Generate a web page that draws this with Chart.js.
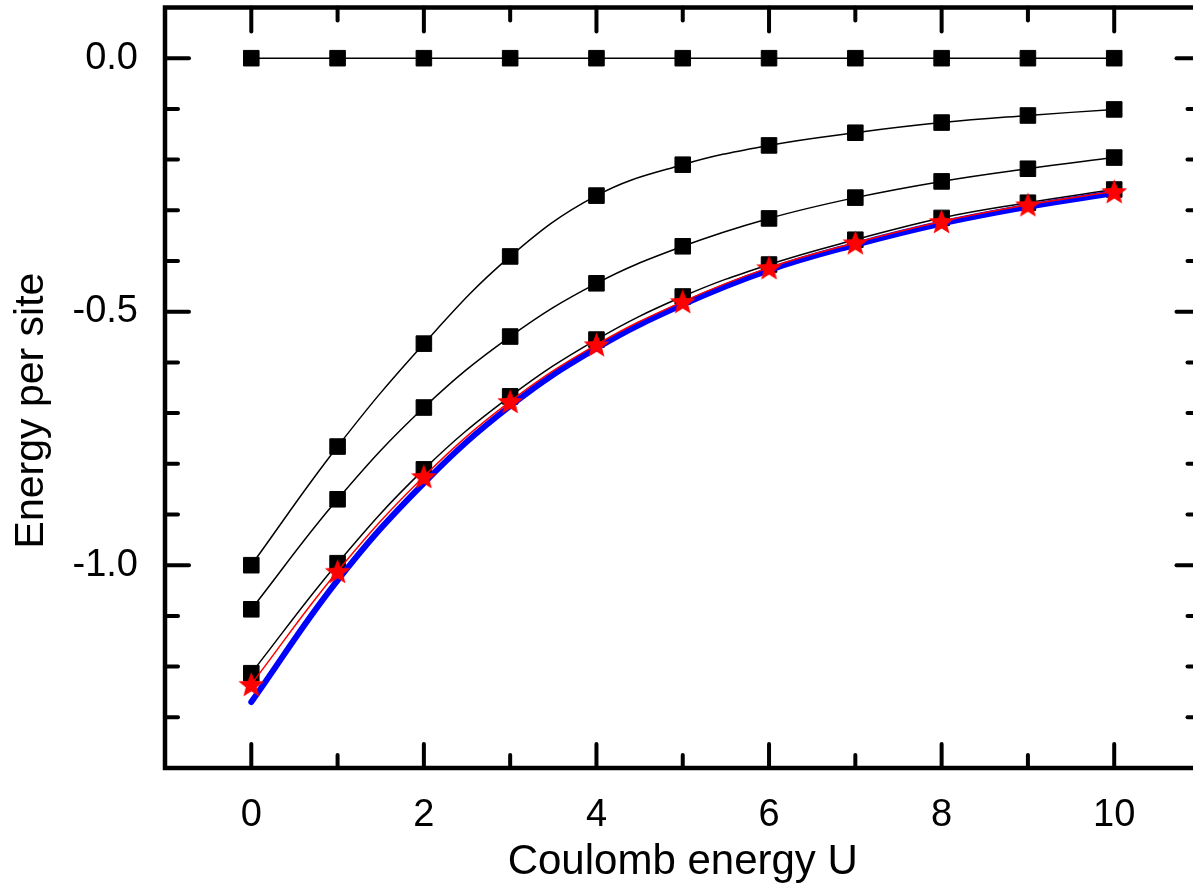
<!DOCTYPE html>
<html><head><meta charset="utf-8">
<script src="https://cdn.jsdelivr.net/npm/chart.js@4.4.0/dist/chart.umd.min.js"></script>
<style>
html,body{margin:0;padding:0;background:#fff;overflow:hidden;width:1193px;height:892px}
#wrap{position:absolute;left:0;top:-7px;width:1215px;height:899px}
</style></head><body><div id="wrap"><canvas id="c"></canvas></div>
<script>
// ---- data ----
const U = [0, 1, 2, 3, 4, 5, 6, 7, 8, 9, 10];
const seriesTop = [0, 0, 0, 0, 0, 0, 0, 0, 0, 0, 0];
const seriesB = [-1.000, -0.766, -0.563, -0.391, -0.271, -0.210, -0.172, -0.147, -0.127, -0.113, -0.101];
const seriesC = [-1.087, -0.870, -0.689, -0.549, -0.444, -0.371, -0.316, -0.275, -0.243, -0.218, -0.196];
const seriesD = [-1.213, -0.996, -0.811, -0.667, -0.555, -0.470, -0.407, -0.358, -0.315, -0.285, -0.259];
const seriesStar = [-1.235, -1.012, -0.825, -0.677, -0.565, -0.480, -0.413, -0.364, -0.322, -0.289, -0.263];
const seriesBlue = [-1.270, -1.030, -0.838, -0.686, -0.572, -0.486, -0.418, -0.368, -0.326, -0.293, -0.266];
const xTickValues = [0, 2, 4, 6, 8, 10];
const xMinorValues = [1, 3, 5, 7, 9];
const yTickValues = [0.0, -0.5, -1.0];
const yMinorValues = [-0.1, -0.2, -0.3, -0.4, -0.6, -0.7, -0.8, -0.9, -1.1, -1.2, -1.3];
const xTitle = 'Coulomb energy U';
const yTitle = 'Energy per site    ';

function pts(ys) { return U.map((u, i) => ({x: u, y: ys[i]})); }

function makeStar(R, r, color) {
  const s = Math.ceil(2 * R + 2);
  const c = document.createElement('canvas');
  c.width = s; c.height = s;
  const g = c.getContext('2d');
  g.beginPath();
  for (let i = 0; i < 10; i++) {
    const rad = i % 2 ? r : R;
    const a = -Math.PI / 2 + i * Math.PI / 5;
    g.lineTo(s / 2 + rad * Math.cos(a), s / 2 + 1.2 + rad * Math.sin(a));
  }
  g.closePath();
  g.fillStyle = color; g.fill();
  return c;
}
const star = makeStar(13.5, 5.8, '#ff0000');

const MAJ = 24, MIN = 13;
const frame = {
  id: 'frame',
  afterDraw(chart) {
    const {ctx, chartArea: a, scales: {x, y}} = chart;
    ctx.save();
    ctx.strokeStyle = '#000';
    ctx.lineCap = 'round';
    ctx.lineWidth = 4;
    const seg = (x1, y1, x2, y2) => { ctx.beginPath(); ctx.moveTo(x1, y1); ctx.lineTo(x2, y2); ctx.stroke(); };
    xTickValues.forEach(v => { const p = x.getPixelForValue(v); seg(p, a.bottom, p, a.bottom - MAJ); seg(p, a.top, p, a.top + MAJ); });
    xMinorValues.forEach(v => { const p = x.getPixelForValue(v); seg(p, a.bottom, p, a.bottom - MIN); seg(p, a.top, p, a.top + MIN); });
    yTickValues.forEach(v => { const p = y.getPixelForValue(v); seg(a.left, p, a.left + MAJ, p); seg(a.right, p, a.right - MAJ, p); });
    yMinorValues.forEach(v => { const p = y.getPixelForValue(v); seg(a.left, p, a.left + MIN, p); seg(a.right, p, a.right - MIN, p); });
    ctx.lineCap = 'square';
    ctx.lineWidth = 4.5;
    ctx.strokeRect(a.left, a.top, a.right - a.left, a.bottom - a.top);
    ctx.restore();
  }
};

const blackLine = (ys) => ({
  data: pts(ys), borderColor: '#000', borderWidth: 1.5, tension: 0.4,
  pointStyle: 'rect', pointRadius: 11, pointBackgroundColor: '#000', pointBorderColor: '#000', pointBorderWidth: 1
});

new Chart(document.getElementById('c'), {
  type: 'line',
  data: {
    datasets: [
      {data: pts(seriesStar), borderColor: '#ff0000', borderWidth: 1.5, tension: 0.4,
       pointStyle: star, pointRadius: 13},
      {data: pts(seriesBlue), borderColor: '#0000ff', borderWidth: 6, tension: 0.4,
       borderCapStyle: 'round', pointRadius: 0},
      blackLine(seriesD),
      blackLine(seriesC),
      blackLine(seriesB),
      blackLine(seriesTop)
    ]
  },
  options: {
    responsive: true, maintainAspectRatio: false, animation: false,
    layout: {padding: {left: 0, top: 0, right: 14, bottom: 0}},
    plugins: {legend: {display: false}, tooltip: {enabled: false}},
    scales: {
      x: {
        type: 'linear', min: -1, max: 11,
        afterBuildTicks: s => { s.ticks = xTickValues.map(v => ({value: v})); },
        afterFit: s => { s.height = 124; s.paddingLeft = 0; s.paddingRight = 0; },
        grid: {display: false, drawTicks: false}, border: {display: false},
        ticks: {color: '#000', padding: 25, font: {family: 'Liberation Sans', size: 38}, callback: v => String(v)},
        title: {display: true, text: xTitle, color: '#000', font: {family: 'Liberation Sans', size: 42}, padding: {top: 0, bottom: 4}}
      },
      y: {
        type: 'linear', min: -1.4, max: 0.1,
        afterBuildTicks: s => { s.ticks = yTickValues.map(v => ({value: v})); },
        afterFit: s => { s.width = 165; s.paddingTop = 0; s.paddingBottom = 0; },
        grid: {display: false, drawTicks: false}, border: {display: false},
        ticks: {color: '#000', padding: 27, font: {family: 'Liberation Sans', size: 38}, callback: v => Number(v).toFixed(1)},
        title: {display: true, text: yTitle, color: '#000', font: {family: 'Liberation Sans', size: 41}, padding: {top: 7, bottom: 0}}
      }
    }
  },
  plugins: [frame]
});
</script></body></html>
